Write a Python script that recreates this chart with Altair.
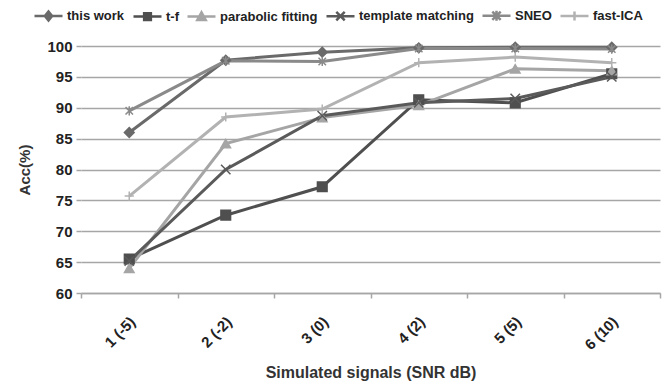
import altair as alt
import pandas as pd

signals = ["1 (-5)", "2 (-2)", "3 (0)", "4 (2)", "5 (5)", "6 (10)"]
series_names = ["this work", "t-f", "parabolic fitting", "template matching", "SNEO", "fast-ICA"]

this_work = [86.0, 97.7, 99.0, 99.7, 99.8, 99.8]
t_f = [65.5, 72.6, 77.2, 91.3, 90.8, 95.5]
parabolic = [64.0, 84.2, 88.4, 90.4, 96.3, 96.0]
template = [65.2, 80.0, 88.7, 90.8, 91.5, 95.0]
sneo = [89.5, 97.6, 97.5, 99.6, 99.6, 99.5]
fast_ica = [75.7, 88.5, 89.8, 97.3, 98.2, 97.3]

colors = ["#6a6a6a", "#4f4f4f", "#a5a5a5", "#5a5a5a", "#8a8a8a", "#b2b2b2"]
point_shapes = [
    "diamond",
    "square",
    "triangle-up",
    "M-1,-1L1,1M-1,1L1,-1",
    "M-0.8,-0.8L0.8,0.8M-0.8,0.8L0.8,-0.8M0,-1L0,1",
    "M-1,0L1,0M0,-1L0,1",
]
point_sizes = [95, 85, 110, 80, 100, 70]
legend_shapes = [
    "M-1,0L1,0M0,-0.32L0.26,0L0,0.32L-0.26,0Z",
    "M-1,0L1,0M-0.24,-0.24L0.24,-0.24L0.24,0.24L-0.24,0.24Z",
    "M-1,0L1,0M0,-0.3L0.3,0.24L-0.3,0.24Z",
    "M-1,0L1,0M-0.3,-0.3L0.3,0.3M-0.3,0.3L0.3,-0.3",
    "M-1,0L1,0M-0.3,-0.3L0.3,0.3M-0.3,0.3L0.3,-0.3M0,-0.36L0,0.36",
    "M-1,0L1,0M0,-0.32L0,0.32",
]

values = [this_work, t_f, parabolic, template, sneo, fast_ica]
rows = []
for name, vals in zip(series_names, values):
    for s, v in zip(signals, vals):
        rows.append({"signal": s, "series": name, "acc": v})
df = pd.DataFrame(rows)

FONT = "Liberation Sans"

x_enc = alt.X(
    "signal:N",
    sort=signals,
    scale=alt.Scale(type="band", paddingInner=0, paddingOuter=0),
    axis=alt.Axis(
        title="Simulated signals (SNR dB)",
        titleFont=FONT, titleFontSize=16, titleFontWeight="bold", titleColor="#333333",
        titlePadding=12,
        labelAngle=-45, labelAlign="right", labelBaseline="middle",
        labelFont=FONT, labelFontSize=15, labelFontWeight="bold", labelColor="#222222",
        labelPadding=21, labelOffset=3,
        tickBand="extent", tickSize=5, tickColor="#a6a6a6", tickWidth=1.5,
        domainColor="#a6a6a6", domainWidth=1.5,
        grid=False,
    ),
)
y_enc = alt.Y(
    "acc:Q",
    scale=alt.Scale(domain=[60, 100], nice=False, zero=False),
    axis=alt.Axis(
        title="Acc(%)",
        values=[60, 65, 70, 75, 80, 85, 90, 95, 100],
        titleFont=FONT, titleFontSize=15, titleFontWeight="bold", titleColor="#333333",
        titlePadding=14,
        labelFont=FONT, labelFontSize=15, labelFontWeight="bold", labelColor="#222222",
        labelPadding=4,
        tickSize=5, tickColor="#a6a6a6", tickWidth=1.5,
        domain=False,
        grid=True, gridColor="#a6a6a6", gridWidth=1.5,
    ),
)

dom = series_names

lines = alt.Chart(df).mark_line(strokeWidth=3).encode(
    x=x_enc,
    y=y_enc,
    stroke=alt.Stroke("series:N", scale=alt.Scale(domain=dom, range=colors), legend=None),
)

points = alt.Chart(df).mark_point(filled=True, opacity=1, strokeWidth=1.5).encode(
    x=x_enc,
    y=y_enc,
    fill=alt.Fill("series:N", scale=alt.Scale(domain=dom, range=colors), legend=None),
    stroke=alt.Stroke("series:N", scale=alt.Scale(domain=dom, range=colors), legend=None),
    shape=alt.Shape("series:N", scale=alt.Scale(domain=dom, range=point_shapes), legend=None),
    size=alt.Size("series:N", scale=alt.Scale(domain=dom, range=point_sizes), legend=None),
)

leg = dict(
    orient="none", legendX=-48, legendY=-46, direction="horizontal", columns=6,
    title=None, symbolSize=784, symbolStrokeWidth=2.5,
    labelFont=FONT, labelFontSize=13, labelFontWeight="bold", labelColor="#222222",
    labelOffset=3, columnPadding=3, padding=0,
)

legend_layer = alt.Chart(df).mark_point(filled=True, opacity=1).encode(
    fill=alt.Fill("series:N", scale=alt.Scale(domain=dom, range=colors), legend=alt.Legend(**leg)),
    stroke=alt.Stroke("series:N", scale=alt.Scale(domain=dom, range=colors), legend=alt.Legend(**leg)),
    shape=alt.Shape("series:N", scale=alt.Scale(domain=dom, range=legend_shapes), legend=alt.Legend(**leg)),
).transform_filter("false")

chart = alt.layer(lines, points, legend_layer).resolve_scale(
    fill="independent", stroke="independent", shape="independent", size="independent"
).properties(
    width=579, height=247,
    autosize=alt.AutoSizeParams(type="none"),
    padding={"left": 81, "top": 46, "right": 6, "bottom": 89},
    background="white",
).configure_view(stroke=None)

chart.save("out.html", embed_options={"renderer": "svg", "actions": False})
